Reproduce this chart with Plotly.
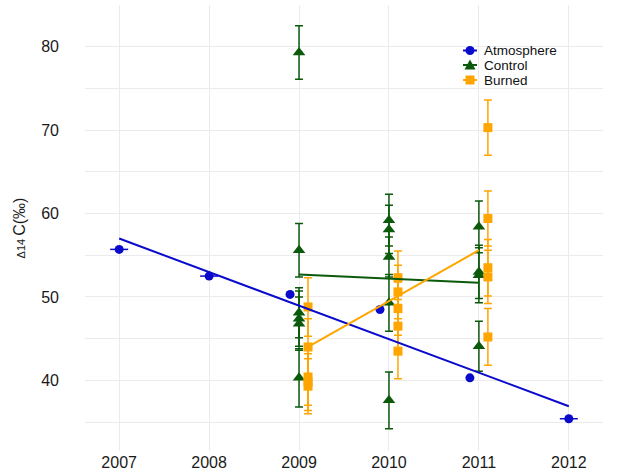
import plotly.graph_objects as go

# ---- data ----
atm_x = [2007, 2008, 2008.9, 2009.9, 2010.9, 2012]
atm_y = [55.7, 52.5, 50.3, 48.5, 40.3, 35.4]
atm_xerr = [0.1, 0.1, 0, 0, 0, 0.1]

ctrl_x = [2009] * 6 + [2010] * 5 + [2011] * 4
ctrl_y = [79.3, 55.6, 48.1, 47.4, 46.8, 40.3,
          59.2, 58.1, 54.8, 49.3, 37.6,
          58.4, 53.0, 52.6, 44.1]
ctrl_err = [3.2, 3.2, 3.0, 3.3, 3.2, 3.5,
            3.1, 2.9, 2.4, 3.4, 3.4,
            3.1, 3.2, 3.3, 3.0]

burn_x = [2009] * 5 + [2010] * 5 + [2011] * 5
burn_y = [48.8, 44.0, 40.4, 39.8, 39.3,
          52.3, 50.6, 48.6, 46.5, 43.5,
          70.3, 59.4, 53.5, 52.4, 45.2]
burn_err = [3.5, 3.4, 3.4, 3.4, 3.3,
            3.2, 3.2, 3.2, 3.2, 3.3,
            3.3, 3.3, 3.4, 3.2, 3.4]

# trend lines
atm_trend_x = [2007, 2012]
atm_trend_y = [57.0, 36.9]
ctrl_trend_x = [2009, 2011]
ctrl_trend_y = [52.7, 51.7]
burn_trend_x = [2009.1, 2011.0]
burn_trend_y = [44.0, 55.6]

x_ticks = [2007, 2008, 2009, 2010, 2011, 2012]
y_ticks = [40, 50, 60, 70, 80]

legend_names = ["Atmosphere", "Control", "Burned"]
legend_shapes = ["circle", "triangle", "square"]

BLUE = "#0A0ACD"
GREEN = "#0B5A0B"
ORANGE = "#FFA500"
colors = [BLUE, GREEN, ORANGE]
dodge = 0.1

fig = go.Figure()

fig.add_trace(go.Scatter(
    x=atm_x, y=atm_y, mode="markers", name="Atmosphere", showlegend=False,
    marker=dict(symbol="circle", size=9, color=BLUE),
    error_x=dict(type="data", array=atm_xerr, color=BLUE, thickness=1.5, width=0),
))
fig.add_trace(go.Scatter(
    x=ctrl_x, y=ctrl_y, mode="markers", name="Control", showlegend=False,
    marker=dict(symbol="triangle-up", size=11, color=GREEN),
    error_y=dict(type="data", array=ctrl_err, color=GREEN, thickness=1.5, width=4),
))
fig.add_trace(go.Scatter(
    x=[v + dodge for v in burn_x], y=burn_y, mode="markers", name="Burned", showlegend=False,
    marker=dict(symbol="square", size=9, color=ORANGE),
    error_y=dict(type="data", array=burn_err, color=ORANGE, thickness=1.5, width=4),
))

for tx, ty, c in [(atm_trend_x, atm_trend_y, BLUE),
                  (ctrl_trend_x, ctrl_trend_y, GREEN),
                  (burn_trend_x, burn_trend_y, ORANGE)]:
    fig.add_trace(go.Scatter(x=tx, y=ty, mode="lines", showlegend=False,
                             line=dict(color=c, width=2), hoverinfo="skip"))

# legend drawn as text annotations + key shapes
L, R, T, B = 85, 19, 5, 21
W, H = 622, 472
pw, ph = W - L - R, H - T - B
def px2x(px):
    return (px - L) / pw
def py2y(py):
    return (H - B - py) / ph

leg_rows = [50.5, 65.0, 80.0]
kx = 470
annotations = []
shapes = []
for name, kind, c, row in zip(legend_names, legend_shapes, colors, leg_rows):
    shapes.append(dict(type="line", xref="paper", yref="paper",
                       x0=px2x(kx - 7), x1=px2x(kx + 7), y0=py2y(row), y1=py2y(row),
                       line=dict(color=c, width=2)))
    if kind == "circle":
        shapes.append(dict(type="circle", xref="paper", yref="paper",
                           x0=px2x(kx - 4.5), x1=px2x(kx + 4.5),
                           y0=py2y(row + 4.5), y1=py2y(row - 4.5),
                           fillcolor=c, line=dict(width=0)))
    elif kind == "square":
        shapes.append(dict(type="rect", xref="paper", yref="paper",
                           x0=px2x(kx - 4.5), x1=px2x(kx + 4.5),
                           y0=py2y(row + 4.5), y1=py2y(row - 4.5),
                           fillcolor=c, line=dict(width=0)))
    else:
        path = "M {:.5f} {:.5f} L {:.5f} {:.5f} L {:.5f} {:.5f} Z".format(
            px2x(kx - 5.5), py2y(row + 4.5), px2x(kx + 5.5), py2y(row + 4.5),
            px2x(kx), py2y(row - 5.5))
        shapes.append(dict(type="path", xref="paper", yref="paper", path=path,
                           fillcolor=c, line=dict(width=0)))
    annotations.append(dict(x=px2x(482), y=py2y(row), xref="paper", yref="paper",
                            text=name, showarrow=False, xanchor="left", yanchor="middle",
                            font=dict(size=13.5, color="#111111")))

grid = "#EBEBEB"
fig.update_layout(
    width=W, height=H,
    margin=dict(l=L, r=R, t=T, b=B, autoexpand=False),
    paper_bgcolor="white", plot_bgcolor="white",
    font=dict(family="Liberation Sans, Arial, sans-serif", color="#1a1a1a"),
    showlegend=False,
    annotations=annotations,
    shapes=shapes,
    xaxis=dict(range=[2006.62, 2012.38], tickvals=x_ticks,
               ticktext=[str(t) for t in x_ticks],
               showgrid=True, gridcolor=grid, gridwidth=1.2,
               zeroline=False, showline=False, ticks="", automargin=False,
               tickfont=dict(size=16, color="#1a1a1a")),
    yaxis=dict(range=[31.53, 85.0], tickvals=y_ticks,
               showgrid=True, gridcolor=grid, gridwidth=1.2,
               minor=dict(dtick=5, tick0=35, showgrid=True, gridcolor=grid, gridwidth=0.8),
               zeroline=False, showline=False, ticks="", automargin=False,
               ticklabelstandoff=25,
               tickfont=dict(size=16, color="#1a1a1a"),
               title=dict(text="<span style='font-size:11px'>Δ14 </span>C(‰)",
                          font=dict(size=16, color="#1a1a1a"), standoff=11)),
)

fig.write_html("out.html", config={"displayModeBar": False},
               post_script="document.body.style.margin='0';")
